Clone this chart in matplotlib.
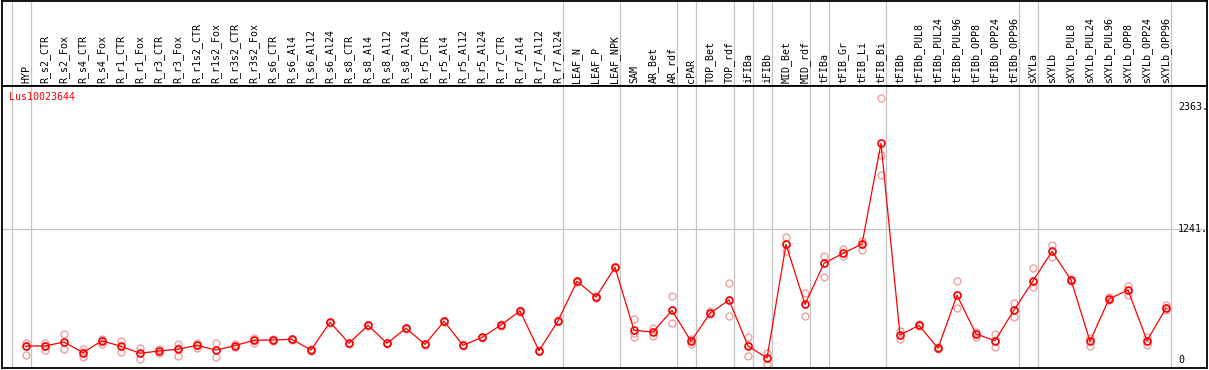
"""Expression profile of Lus10023644 across tissues/treatments (eFP-style line chart)."""
import matplotlib
matplotlib.use("Agg")
import matplotlib.pyplot as plt

categories = [
    "HYP", "R_s2_CTR", "R_s2_Fox", "R_s4_CTR", "R_s4_Fox", "R_r1_CTR", "R_r1_Fox",
    "R_r3_CTR", "R_r3_Fox", "R_r1s2_CTR", "R_r1s2_Fox", "R_r3s2_CTR", "R_r3s2_Fox",
    "R_s6_CTR", "R_s6_Al4", "R_s6_Al12", "R_s6_Al24", "R_s8_CTR", "R_s8_Al4",
    "R_s8_Al12", "R_s8_Al24", "R_r5_CTR", "R_r5_Al4", "R_r5_Al12", "R_r5_Al24",
    "R_r7_CTR", "R_r7_Al4", "R_r7_Al12", "R_r7_Al24", "LEAF_N", "LEAF_P", "LEAF_NPK",
    "SAM", "AR_Bet", "AR_rdf", "cPAR", "TOP_Bet", "TOP_rdf", "iFIBa", "iFIBb",
    "MID_Bet", "MID_rdf", "tFIBa", "tFIB_Gr", "tFIB_Li", "tFIB_Bi", "tFIBb",
    "tFIBb_PUL8", "tFIBb_PUL24", "tFIBb_PUL96", "tFIBb_OPP8", "tFIBb_OPP24",
    "tFIBb_OPP96", "sXYLa", "sXYLb", "sXYLb_PUL8", "sXYLb_PUL24", "sXYLb_PUL96",
    "sXYLb_OPP8", "sXYLb_OPP24", "sXYLb_OPP96",
]

means = [
    174, 174, 210, 113, 222, 171, 107, 128, 144, 180, 137, 177, 226,
    229, 235, 137, 391, 199, 363, 199, 336, 189, 400, 180, 253,
    366, 494, 131, 403, 766, 622, 894,
    317, 302, 500, 217, 473, 595, 174, 64,
    1104, 555, 930, 1022, 1107, 2028, 274,
    363, 153, 638, 284, 222, 503,
    769, 1040, 778, 217, 604, 686, 222, 519,
]

# three replicates per sample
rep_a = [
    204, 204, 284, 149, 241, 217, 153, 146, 192, 204, 199, 192, 244,
    238, 242, 142, 396, 204, 368, 204, 341, 194, 405, 185, 258,
    371, 499, 136, 408, 771, 627, 899,
    421, 336, 629, 235, 497, 747, 256, 107,
    1168, 656, 997, 1064, 1132, 2440, 314,
    372, 162, 766, 302, 281, 567,
    885, 1098, 786, 244, 625, 726, 259, 546,
]
rep_b = [
    89, 137, 144, 76, 192, 122, 58, 113, 85, 156, 76, 167, 199,
    220, 229, 132, 386, 194, 358, 194, 331, 184, 395, 175, 248,
    361, 489, 126, 398, 761, 617, 889,
    259, 265, 382, 192, 467, 446, 82, 6,
    1043, 446, 802, 997, 1052, 1738, 241,
    355, 145, 519, 259, 165, 442,
    711, 985, 766, 177, 595, 643, 186, 503,
]
rep_c = [
    178, 174, 210, 119, 229, 174, 110, 124, 156, 186, 137, 174, 229,
    229, 235, 137, 391, 199, 363, 199, 336, 189, 400, 180, 253,
    366, 494, 131, 403, 766, 622, 894,
    293, 302, 503, 220, 476, 595, 183, 64,
    1107, 560, 935, 1022, 1110, 1921, 274,
    363, 153, 638, 284, 222, 503,
    769, 1040, 778, 217, 604, 686, 222, 519,
]

gene = "Lus10023644"
y_labels = [2363, 1241, 0]
group_starts = [0, 1, 29, 32, 35, 36, 38, 39, 40, 42, 43, 46, 53, 54, 61]

W, H = 1209, 370
GRID = "#c4c4c4"

fig = plt.figure(figsize=(W / 100, H / 100), dpi=100)

# pixel geometry of the frame
x0, x1 = 2, 1207
step = 19.0
first = 26.0
xmin = -(first - x0) / step
xmax = xmin + (x1 - x0) / step

head = fig.add_axes([x0 / W, (H - 85.5) / H, (x1 - x0) / W, 85 / H])
ax = fig.add_axes([x0 / W, 2 / H, (x1 - x0) / W, (368 - 86) / H])

# value scale: 0 at y=365 px, 0.1093 px per unit
k = 0.1093
ymin = -3 / k
ymax = ymin + 282 / k

for a in (head, ax):
    a.set_xlim(xmin, xmax)
    a.set_xticks([])
    a.set_yticks([])
    for s in a.spines.values():
        s.set_color("black")
        s.set_linewidth(1.3)
    for g in group_starts:
        a.axvline(g - 0.75, color=GRID, lw=0.9, zorder=0)

head.set_ylim(0, 1)
for i, name in enumerate(categories):
    head.text(i, 0.03, name, rotation=90, ha="center", va="bottom",
              family="DejaVu Sans Mono", fontsize=7.2, color="black")

ax.set_ylim(ymin, ymax)
ax.axhline(1241, color=GRID, lw=0.9, zorder=0)

xs = list(range(len(categories)))
rep_style = dict(ls="none", marker="o", ms=5, mfc="none", mec="#f0a0a0", mew=1.0, zorder=2)
ax.plot(xs, rep_a, **rep_style)
ax.plot(xs, rep_b, **rep_style)
ax.plot(xs, rep_c, **rep_style)
ax.plot(xs, means, color="red", lw=0.9, marker="o", ms=5, mfc="none",
        mec="red", mew=1.2, zorder=3, clip_on=False)

lab_x = (1178 - x0) / (x1 - x0)
for v in y_labels:
    txt = "0" if v == 0 else f"{v}."
    ax.text(lab_x, v, txt, transform=ax.get_yaxis_transform(), ha="left",
            va="bottom" if v == 0 else "center",
            family="DejaVu Sans Mono", fontsize=7.2, color="black")

ax.text((9 - x0) / (x1 - x0), 1 - 11 / 282, gene, transform=ax.transAxes,
        ha="left", va="center", family="DejaVu Sans Mono", fontsize=7.2, color="red")

fig.savefig("out.png", dpi=100)
